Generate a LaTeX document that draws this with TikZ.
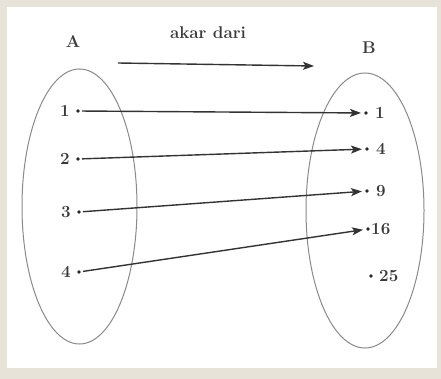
\documentclass[tikz,border=0pt]{standalone}
\usetikzlibrary{arrows.meta,shapes.geometric}
\definecolor{frame}{HTML}{E8E3D8}
\definecolor{txt}{HTML}{3A3A3A}
\definecolor{ell}{HTML}{8A8A8A}
\begin{document}
\begin{tikzpicture}[x=1pt,y=-1pt,
  setell/.style={draw=ell, line width=1pt, ellipse, inner sep=0pt},
  pt/.style={circle, fill=black!85, inner sep=0pt, minimum size=3.6pt},
  lab/.style={text=txt, font=\fontsize{17}{20}\selectfont\bfseries, inner sep=1pt},
  arr/.style={draw=black!80, line width=1.4pt, -{Stealth[length=11pt,width=8pt,inset=2.5pt]}, shorten >=3pt, shorten <=2pt}]
\useasboundingbox (0,0) rectangle (441,379);
\fill[frame] (0,0) rectangle (441,379);
\fill[white] (7,7) rectangle (437,368);
% sets
\node[setell, minimum width=115pt, minimum height=275pt] (SA) at (79.5,206.5) {};
\node[setell, minimum width=118pt, minimum height=275pt] (SB) at (365,210.5) {};
\node[lab] (LA) at (73,42) {A};
\node[lab] (LB) at (369,48) {B};
\node[lab] (rel) at (208,33) {akar dari};
\coordinate (ts) at (118,63);
\coordinate (te) at (314,66);
\draw[arr, shorten <=0pt, shorten >=0pt] (ts) -- (te);
% left elements
\node[pt, label={[lab,label distance=5pt]left:1}] (a1) at (78,111) {};
\node[pt, label={[lab,label distance=5pt]left:2}] (a2) at (78,159) {};
\node[pt, label={[lab,label distance=5pt]left:3}] (a3) at (79,212) {};
\node[pt, label={[lab,label distance=5pt]left:4}] (a4) at (79,272) {};
% right elements
\node[pt, label={[lab,label distance=6pt]right:1}] (b1) at (366,113) {};
\node[pt, label={[lab,label distance=6pt]right:4}] (b2) at (367,149) {};
\node[pt, label={[lab,label distance=6pt]right:9}] (b3) at (367,191) {};
\node[pt, label={[lab,label distance=0pt]right:16}] (b4) at (368,229) {};
\node[pt, label={[lab,label distance=5pt]right:25}] (b5) at (371,276) {};
% mapping
\draw[arr] (a1) -- (b1);
\draw[arr] (a2) -- (b2);
\draw[arr] (a3) -- (b3);
\draw[arr] (a4) -- (b4);
\end{tikzpicture}
\end{document}
